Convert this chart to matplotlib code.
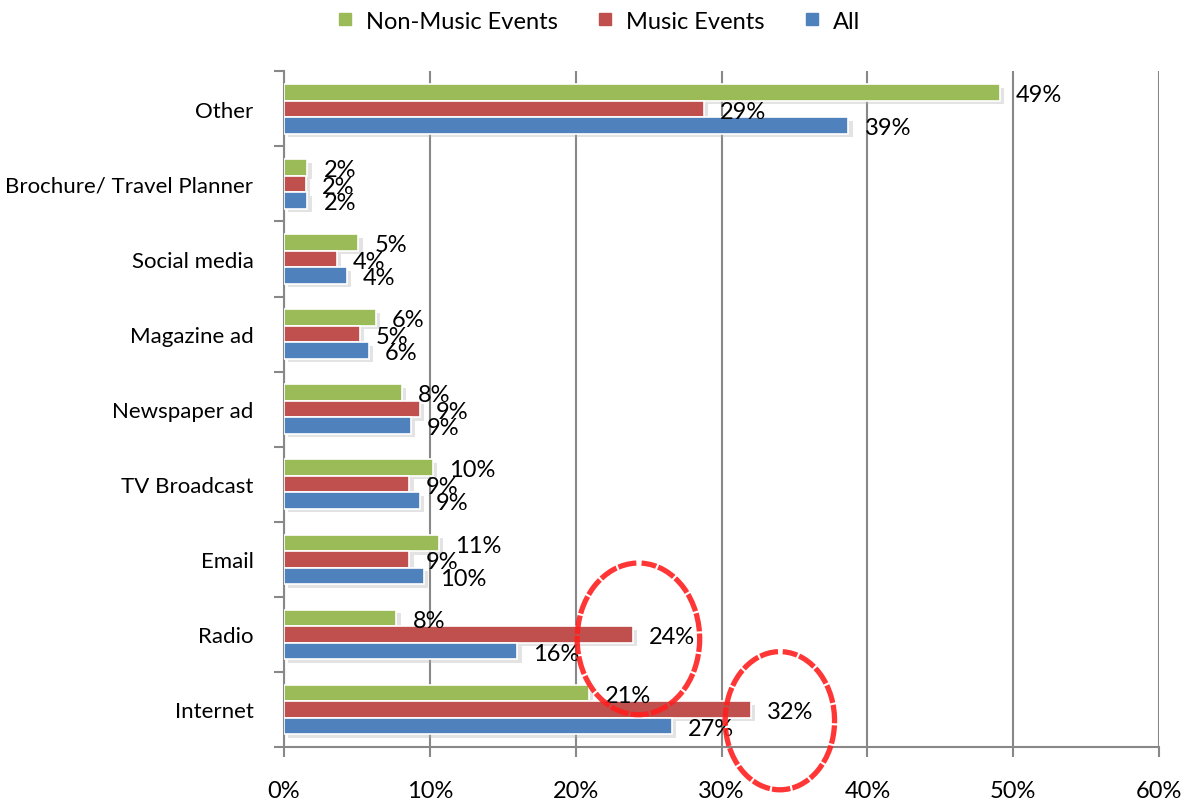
import numpy as np
import matplotlib.pyplot as plt
import matplotlib.patheffects as pe
from matplotlib.patches import Arc
from matplotlib.lines import Line2D

plt.rcParams['font.family'] = ['Lato', 'DejaVu Sans']

categories = ["Other", "Brochure/ Travel Planner", "Social media", "Magazine ad",
              "Newspaper ad", "TV Broadcast", "Email", "Radio", "Internet"]
non_music = [49.1, 1.6, 5.1, 6.3, 8.1, 10.2, 10.6, 7.7, 20.9]
music = [28.8, 1.5, 3.6, 5.2, 9.3, 8.6, 8.6, 23.9, 32.0]
all_events = [38.7, 1.6, 4.3, 5.8, 8.7, 9.3, 9.6, 16.0, 26.6]

series = [("Non-Music Events", non_music, "#9BBB59", 0.22),
          ("Music Events", music, "#C0504D", 0.0),
          ("All", all_events, "#4F81BD", -0.22)]

fig = plt.figure(figsize=(11.96, 8.03), dpi=100)
ax = fig.add_axes([0.2375, 0.0685, 0.7316, 0.8415])

# Internet at the bottom, Other on top
y = np.arange(len(categories))[::-1]
shadow = [pe.SimplePatchShadow(offset=(3, -2.5), shadow_rgbFace='#b0b0b0', alpha=0.35), pe.Normal()]

for name, vals, col, off in series:
    bars = ax.barh(y + off, vals, height=0.22, color=col, edgecolor='white', linewidth=1.2,
                   label=name, zorder=3)
    for b in bars:
        b.set_path_effects(shadow)
    for yi, v in zip(y, vals):
        ax.text(v + 1.1, yi + off - 0.03, f"{v:.0f}%", fontsize=17, va='center',
                ha='left', color='black', zorder=5)

ax.set_xlim(0, 60)
ax.set_ylim(-0.5, len(categories) - 0.5)
ax.set_xticks(np.arange(0, 61, 10))
ax.set_xticklabels([f"{t}%" for t in range(0, 61, 10)], fontsize=17)
ax.set_yticks(y)
ax.set_yticklabels(categories, fontsize=16)
ax.set_yticks(np.arange(-0.5, len(categories), 1), minor=True)
ax.tick_params(axis='y', which='major', length=0, pad=22)
ax.tick_params(axis='y', which='minor', length=7, width=1.5, color='#888888')
ax.tick_params(axis='x', length=7, width=1.5, color='#888888', pad=17)

ax.grid(axis='x', color='#888888', linewidth=1.5, zorder=0)
for s in ['top', 'right']:
    ax.spines[s].set_visible(False)
for s in ['left', 'bottom']:
    ax.spines[s].set_color('#888888')
    ax.spines[s].set_linewidth(1.5)

# hand-drawn red circles around the highlighted values
for cx, cy, w, h in [(24.3, 0.94, 8.4, 2.02), (34.0, -0.15, 7.5, 1.84)]:
    arc = Arc((cx, cy), w, h, theta1=98, theta2=438, color='#FF2020', lw=3.8,
              linestyle=(0, (3.5, 0.4)), alpha=0.9, clip_on=False, zorder=6)
    ax.add_patch(arc)

handles = [Line2D([], [], marker='s', linestyle='none', markersize=9, color=c)
           for _, _, c, _ in series]
fig.legend(handles, [s[0] for s in series], loc='upper center', bbox_to_anchor=(0.5, 1.012),
           ncol=3, frameon=False, fontsize=17, handlelength=0.8, handletextpad=0.5,
           columnspacing=1.6)

fig.savefig("out.png", dpi=100)
